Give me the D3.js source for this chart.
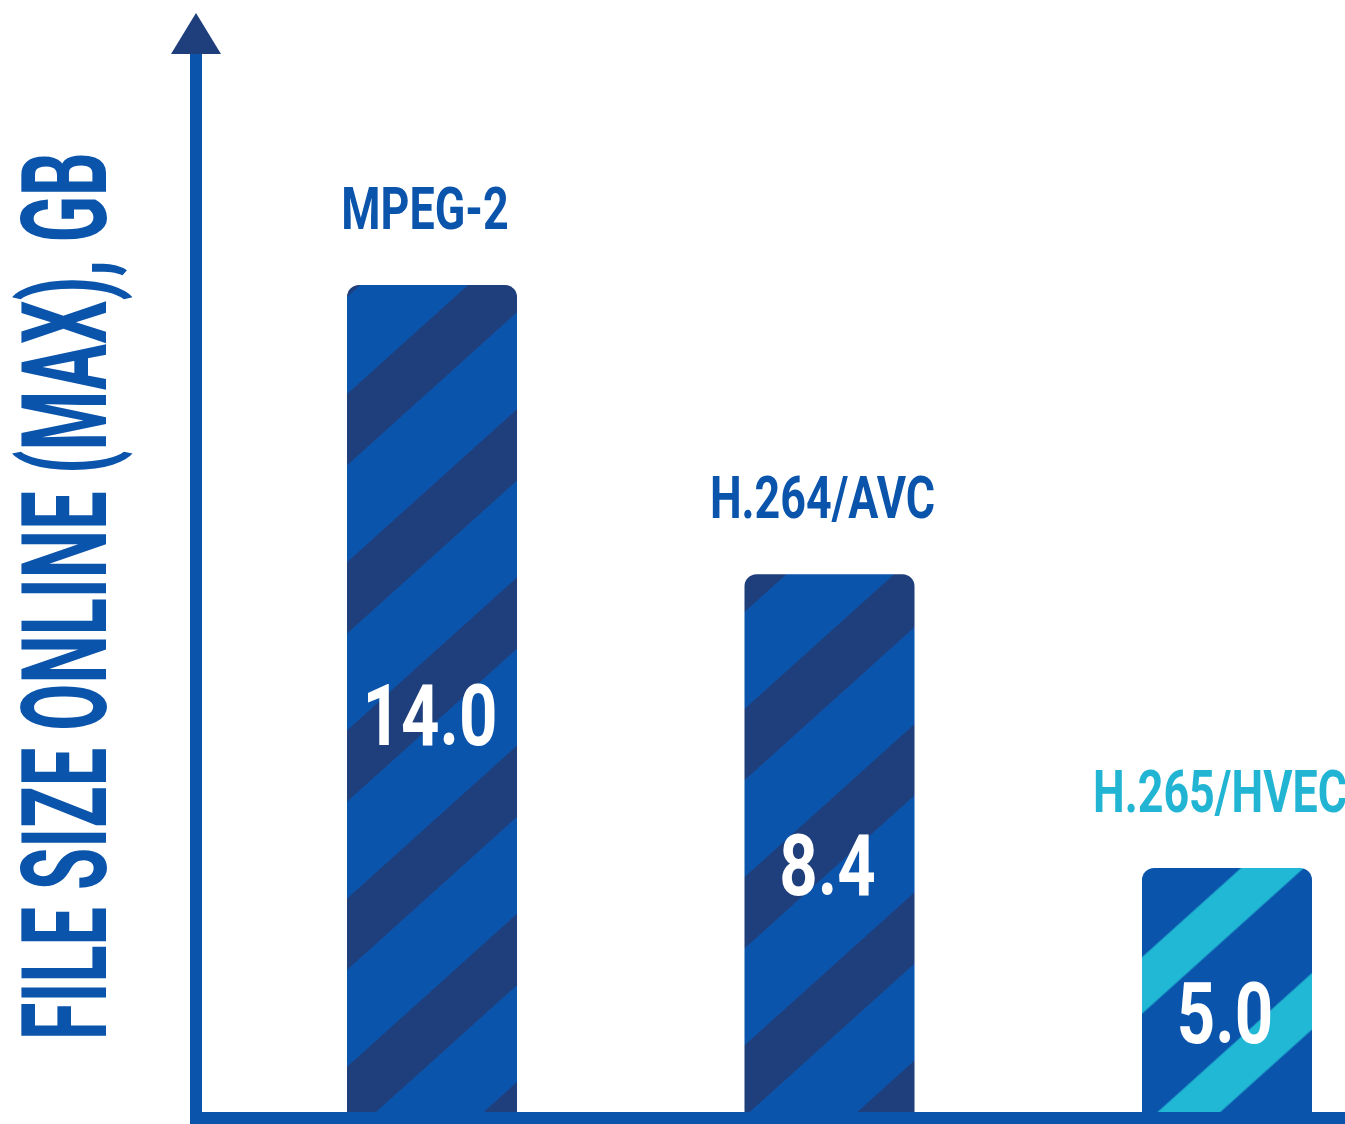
<!DOCTYPE html>
<meta charset="utf-8">
<html>
<head>
    <script src="https://cdnjs.cloudflare.com/ajax/libs/d3/7.8.5/d3.min.js"></script>
    <style type="text/css">
    body {
        margin: 0;
        background: #ffffff;
    }
    svg text {
        font-family: Roboto, "Liberation Sans", sans-serif;
        font-weight: bold;
    }
    </style>
</head>
<body>
<script type="text/javascript">

    // chart data
    var codecs = ["MPEG-2", "H.264/AVC", "H.265/HVEC"];
    var fileSizes = [14.0, 8.4, 5.0];
    var sizeLabels = ["14.0", "8.4", "5.0"];
    var axisTitle = "FILE SIZE ONLINE (MAX), GB";

    var width = 1345,
        height = 1124;

    var blue = "#0b54ab",
        navy = "#1e3f7c",
        cyan = "#20b8d5";

    var svg = d3.select("body")
                .append("svg")
                .attr("width", width)
                .attr("height", height);

    var defs = svg.append("defs");

    // diagonal stripes, defined in page space so bars share the same phase
    function stripes(id, stripeColor, angle, period, phase, thick) {
        var p = defs.append("pattern")
            .attr("id", id)
            .attr("patternUnits", "userSpaceOnUse")
            .attr("width", 10)
            .attr("height", period)
            .attr("patternTransform", "rotate(" + angle + ")");
        p.append("rect").attr("width", 10).attr("height", period).attr("fill", blue);
        p.append("rect").attr("y", phase).attr("width", 10).attr("height", thick).attr("fill", stripeColor);
        p.append("rect").attr("y", phase - period).attr("width", 10).attr("height", thick).attr("fill", stripeColor);
    }
    stripes("stripeNavy", navy, -42, 125, 25, 53);
    stripes("stripeCyan", cyan, -42, 125.5, 95, 42);

    var x = d3.scaleBand()
        .domain(codecs)
        .range([347, 1312])
        .paddingInner(0.5723)
        .paddingOuter(0);

    // bars in the original grow with the log of the size
    var y = d3.scaleLog()
        .domain([3.25, 14])
        .range([1112, 285]);

    var fillFor = d3.scaleOrdinal(codecs, ["url(#stripeNavy)", "url(#stripeNavy)", "url(#stripeCyan)"]);
    var labelColor = d3.scaleOrdinal(codecs, [blue, blue, "#22b5d3"]);

    var r = 12;
    function barPath(d, i) {
        var x0 = x(d), w = x.bandwidth(), t = y(fileSizes[i]), b = y.range()[0];
        return "M" + x0 + "," + b +
               "V" + (t + r) +
               "A" + r + "," + r + " 0 0 1 " + (x0 + r) + "," + t +
               "H" + (x0 + w - r) +
               "A" + r + "," + r + " 0 0 1 " + (x0 + w) + "," + (t + r) +
               "V" + b + "Z";
    }

    svg.selectAll(".bar")
       .data(codecs)
       .enter()
       .append("path")
       .attr("class", "bar")
       .attr("d", barPath)
       .attr("fill", function(d) { return fillFor(d); });

    // squeeze text to look like a condensed face
    function condense(sel, k) {
        sel.each(function() {
            var len = this.getComputedTextLength();
            d3.select(this)
              .attr("textLength", len * k)
              .attr("lengthAdjust", "spacingAndGlyphs");
        });
    }

    // codec names above bars
    svg.selectAll(".name")
       .data(codecs)
       .enter()
       .append("text")
       .attr("class", "name")
       .attr("x", function(d) { return x(d) + x.bandwidth() / 2 - 7; })
       .attr("y", function(d, i) { return y(fileSizes[i]) - 56; })
       .attr("text-anchor", "middle")
       .style("font-size", "59px")
       .attr("fill", function(d) { return labelColor(d); })
       .text(function(d) { return d; })
       .call(condense, 0.76);

    // values inside bars
    svg.selectAll(".value")
       .data(codecs)
       .enter()
       .append("text")
       .attr("class", "value")
       .attr("x", function(d) { return x(d) + x.bandwidth() / 2 - 2; })
       .attr("y", function(d, i) { return (y(fileSizes[i]) + y.range()[0]) / 2 + [46, 52, 53][i]; })
       .attr("text-anchor", "middle")
       .style("font-size", "86px")
       .attr("fill", "#ffffff")
       .text(function(d, i) { return sizeLabels[i]; })
       .call(condense, 0.78);

    // axes
    svg.append("line")
       .attr("x1", 190).attr("x2", width)
       .attr("y1", 1118).attr("y2", 1118)
       .attr("stroke", blue)
       .attr("stroke-width", 12);

    svg.append("line")
       .attr("x1", 196).attr("x2", 196)
       .attr("y1", 48).attr("y2", 1124)
       .attr("stroke", blue)
       .attr("stroke-width", 12);

    svg.append("path")
       .attr("d", "M196,13L171,54L221,54Z")
       .attr("fill", navy);

    svg.append("text")
       .attr("transform", "translate(106," + 1040 + ") rotate(-90)")
       .style("font-size", "118px")
       .attr("fill", blue)
       .text(axisTitle)
       .call(condense, 0.58);

</script>
</body>
</html>
